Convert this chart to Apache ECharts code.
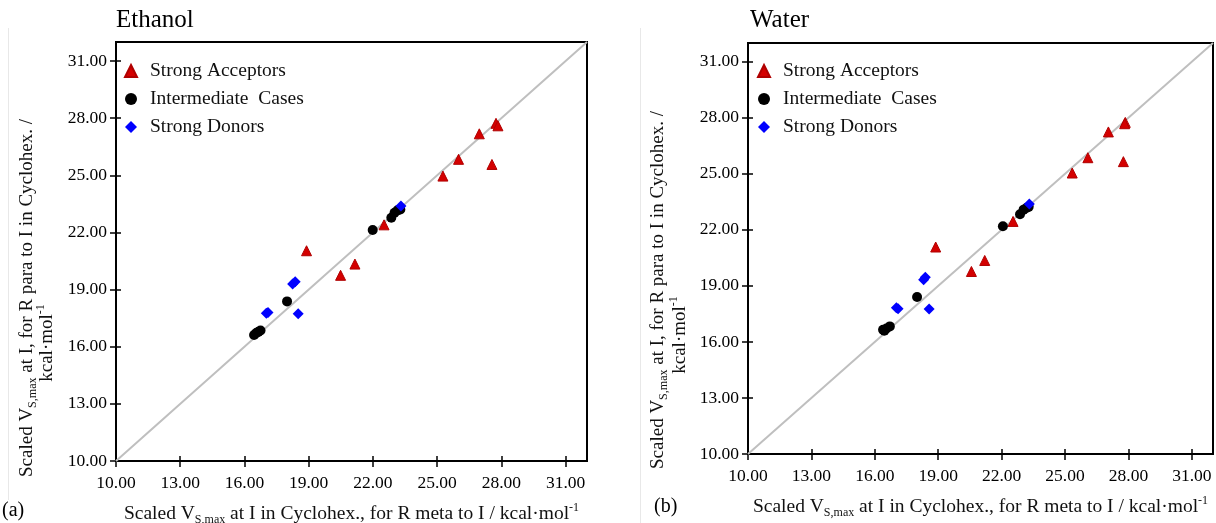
<!DOCTYPE html>
<html>
<head>
<meta charset="utf-8">
<script src="https://cdn.jsdelivr.net/npm/echarts@6/dist/echarts.min.js"></script>
<style>
  html, body { margin: 0; padding: 0; background: #fff; }
  #chart { width: 1216px; height: 523px; }
</style>
</head>
<body>
<div id="chart"></div>
<script>
const tickValues = [10, 13, 16, 19, 22, 25, 28, 31];
const diagonal = [[10, 10], [32, 32]];
const groupNames = ['Strong Acceptors', 'Intermediate  Cases', 'Strong Donors'];

// (a) Ethanol: [meta, para]
const ethAcceptors = [[27.75, 27.73], [27.84, 27.60], [26.97, 27.18], [26.00, 25.84], [27.56, 25.57],
  [25.27, 24.96], [22.52, 22.40], [18.90, 21.04], [21.16, 20.34], [20.49, 19.75]];
const ethIntermediate = [[21.99, 22.13], [22.86, 22.77], [23.01, 23.03], [23.15, 23.16], [23.28, 23.21],
  [17.99, 18.38], [16.45, 16.62], [16.55, 16.72], [16.65, 16.78], [16.75, 16.85]];
const ethDonors = [[23.31, 23.39], [18.25, 19.29], [18.37, 19.41], [17.02, 17.76], [17.10, 17.80], [18.51, 17.73]];

// (b) Water
const watAcceptors = [[27.85, 27.75], [27.82, 27.68], [27.05, 27.24], [26.08, 25.86], [27.76, 25.65],
  [25.34, 25.04], [22.54, 22.45], [18.88, 21.08], [21.20, 20.36], [20.57, 19.77]];
const watIntermediate = [[22.06, 22.19], [22.87, 22.83], [23.04, 23.08], [23.17, 23.17], [23.28, 23.23],
  [18.00, 18.40], [16.39, 16.65], [16.55, 16.72], [16.71, 16.83], [16.45, 16.60]];
const watDonors = [[23.31, 23.38], [18.31, 19.33], [18.39, 19.46], [17.02, 17.83], [17.10, 17.77], [18.57, 17.76]];

const FONT = "'Liberation Serif', 'Times New Roman', serif";

const chart = echarts.init(document.getElementById('chart'));

// rich styles for axis titles (subscript / superscript)
const richAxis = {
    n: { fontFamily: FONT, fontSize: 19.5, lineHeight: 24, color: '#111' },
    sub: { fontFamily: FONT, fontSize: 12, lineHeight: 12, verticalAlign: 'bottom', color: '#111' },
    sup: { fontFamily: FONT, fontSize: 12, lineHeight: 14, verticalAlign: 'top', color: '#111' }
};
const richGraphic = {
    n: { fontFamily: FONT, fontSize: 19, lineHeight: 24, fill: '#111' },
    sub: { fontFamily: FONT, fontSize: 12, lineHeight: 12, verticalAlign: 'bottom', fill: '#111' },
    sup: { fontFamily: FONT, fontSize: 12, lineHeight: 14, verticalAlign: 'top', fill: '#111' }
};
const xName = '{n|Scaled V}{sub|S,max}{n| at I in Cyclohex., for R meta to I / kcal·mol}{sup|-1}';
const yName1 = '{n|Scaled V}{sub|S,max}{n| at I, for R para to I in Cyclohex. /}';
const yName2 = '{n|kcal·mol}{sup|-1}';

function mainX(grid) {
    return {
        gridIndex: grid, type: 'value', min: 10, max: 32, interval: 3,
        axisLine: { lineStyle: { color: '#000', width: 2 } },
        axisTick: { length: 6, customValues: tickValues, lineStyle: { color: '#000', width: 1.5 } },
        axisLabel: { customValues: tickValues, formatter: v => v.toFixed(2), fontFamily: FONT,
            fontSize: 17.5, color: '#000', margin: 13 },
        splitLine: { show: false },
        name: xName, nameLocation: 'middle', nameGap: 41,
        nameTextStyle: { rich: richAxis }
    };
}
function mainY(grid) {
    return {
        gridIndex: grid, type: 'value', min: 10, max: 32, interval: 3,
        axisLine: { lineStyle: { color: '#000', width: 2 } },
        axisTick: { length: 6, customValues: tickValues, lineStyle: { color: '#000', width: 1.5 } },
        axisLabel: { customValues: tickValues, formatter: v => v.toFixed(2), fontFamily: FONT,
            fontSize: 17.5, color: '#000', margin: 9 },
        splitLine: { show: false }
    };
}
// second axis only for the inner half of the crossing ticks
function innerTicks(grid, pos) {
    return {
        gridIndex: grid, type: 'value', min: 10, max: 32, interval: 3, position: pos,
        axisLine: { show: false },
        axisTick: { inside: true, length: 5, customValues: tickValues, lineStyle: { color: '#000', width: 1.5 } },
        axisLabel: { show: false },
        splitLine: { show: false }
    };
}

function panelSeries(xi, yi, acc, inter, don) {
    return [
        { type: 'line', xAxisIndex: xi, yAxisIndex: yi, data: diagonal, symbol: 'none', silent: true,
          lineStyle: { color: '#bfbfbf', width: 2 }, z: 1 },
        { name: groupNames[0], type: 'scatter', xAxisIndex: xi, yAxisIndex: yi, data: acc,
          symbol: 'triangle', symbolSize: 10,
          itemStyle: { color: '#d40000', borderColor: '#b00000', borderWidth: 1, opacity: 1 }, z: 3 },
        { name: groupNames[1], type: 'scatter', xAxisIndex: xi, yAxisIndex: yi, data: inter,
          symbol: 'circle', symbolSize: 10, itemStyle: { color: '#000', opacity: 1 }, z: 3 },
        { name: groupNames[2], type: 'scatter', xAxisIndex: xi, yAxisIndex: yi, data: don,
          symbol: 'diamond', symbolSize: 11, itemStyle: { color: '#0000ff', opacity: 1 }, z: 4 }
    ];
}

function legendAt(left) {
    return {
        data: groupNames, orient: 'vertical', left: left, top: 61,
        itemWidth: 12, itemHeight: 12, itemGap: 8, padding: 0,
        selectedMode: false,
        textStyle: { fontFamily: FONT, fontSize: 19.5, color: '#111', lineHeight: 20, padding: [0, 0, 0, 8] }
    };
}

function yTitle(x, y, text) {
    return { type: 'text', x: x, y: y, rotation: Math.PI / 2,
        style: { text: text, rich: richGraphic, align: 'center', verticalAlign: 'middle' } };
}

const option = {
    animation: false,
    title: [
        { text: 'Ethanol', left: 116, top: 8, padding: 0,
          textStyle: { fontFamily: FONT, fontSize: 25, fontWeight: 'normal', color: '#000' } },
        { text: 'Water', left: 750, top: 8, padding: 0,
          textStyle: { fontFamily: FONT, fontSize: 25, fontWeight: 'normal', color: '#000' } },
        { text: '(a)', left: 2, top: 501, padding: 0,
          textStyle: { fontFamily: FONT, fontSize: 20, fontWeight: 'normal', color: '#000' } },
        { text: '(b)', left: 654, top: 497, padding: 0,
          textStyle: { fontFamily: FONT, fontSize: 20, fontWeight: 'normal', color: '#000' } }
    ],
    legend: [legendAt(124), legendAt(757)],
    grid: [
        { left: 116, top: 42, width: 471, height: 419, show: true, borderColor: '#000', borderWidth: 2,
          outerBoundsMode: 'none' },
        { left: 748, top: 43, width: 465, height: 411, show: true, borderColor: '#000', borderWidth: 2,
          outerBoundsMode: 'none' }
    ],
    xAxis: [mainX(0), innerTicks(0, 'bottom'), mainX(1), innerTicks(1, 'bottom')],
    yAxis: [mainY(0), innerTicks(0, 'left'), mainY(1), innerTicks(1, 'left')],
    series: [].concat(
        panelSeries(0, 0, ethAcceptors, ethIntermediate, ethDonors),
        panelSeries(2, 2, watAcceptors, watIntermediate, watDonors)
    ),
    graphic: [
        { type: 'line', shape: { x1: 8.5, y1: 28, x2: 8.5, y2: 500 }, style: { stroke: '#e8e8e8', lineWidth: 1 } },
        { type: 'line', shape: { x1: 640.5, y1: 28, x2: 640.5, y2: 523 }, style: { stroke: '#e8e8e8', lineWidth: 1 } },
        yTitle(27, 298, yName1),
        yTitle(47, 343, yName2),
        yTitle(658, 290, yName1),
        yTitle(680, 335, yName2)
    ]
};

chart.setOption(option);
</script>
</body>
</html>
